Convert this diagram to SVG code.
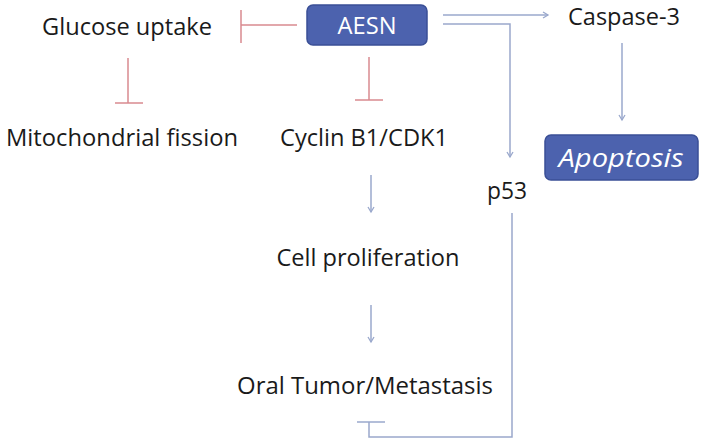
<svg xmlns="http://www.w3.org/2000/svg" width="705" height="443" viewBox="0 0 705 443">
<style>
.t{font-family:"Open Sans","Liberation Sans",sans-serif;font-size:23px;fill:#1a1a1a;text-anchor:middle}
.w{font-family:"Open Sans","Liberation Sans",sans-serif;fill:#ffffff;text-anchor:middle}
.box{fill:#4c62ae;stroke:#3a4f96;stroke-width:1.5}
.act{fill:none;stroke:#9aa8cc;stroke-width:1.5}
.inh{fill:none;stroke:#d98a90;stroke-width:1.5}
</style>
<defs>
<marker id="arr" markerWidth="10" markerHeight="10" refX="6" refY="4" orient="auto" markerUnits="userSpaceOnUse">
<path d="M1,1 L6,4 L1,7" fill="none" stroke="#9aa8cc" stroke-width="1.3"/>
</marker>
</defs>
<rect width="705" height="443" fill="#ffffff"/>
<g id="connectors">
<path class="inh" d="M297,25 H241 M241,10 V43"/>
<path class="inh" d="M369,57 V100 M355,100 H383"/>
<path class="inh" d="M128,58 V103 M115,103 H143"/>
<path class="act" d="M443,15 H548" marker-end="url(#arr)"/>
<path class="act" d="M443,24 H510 V157" marker-end="url(#arr)"/>
<path class="act" d="M622,43 V120" marker-end="url(#arr)"/>
<path class="act" d="M371,175 V212" marker-end="url(#arr)"/>
<path class="act" d="M371,305 V342" marker-end="url(#arr)"/>
<path class="act" d="M512,213 V437 H369 V422"/>
<path class="act" d="M357,422 H385"/>
</g>
<g id="aesn"><rect class="box" x="307" y="5" width="120" height="40" rx="6"/><text class="w" x="367" y="34" font-size="23" textLength="59" lengthAdjust="spacingAndGlyphs">AESN</text></g>
<g id="glucose"><text class="t" x="127" y="35" textLength="170" lengthAdjust="spacingAndGlyphs">Glucose uptake</text></g>
<g id="mito"><text class="t" x="122" y="146" textLength="232" lengthAdjust="spacingAndGlyphs">Mitochondrial fission</text></g>
<g id="cyclin"><text class="t" x="364" y="146" textLength="168" lengthAdjust="spacingAndGlyphs">Cyclin B1/CDK1</text></g>
<g id="caspase"><text class="t" x="624" y="25" font-size="22" textLength="112" lengthAdjust="spacingAndGlyphs">Caspase-3</text></g>
<g id="apoptosis"><rect class="box" x="545" y="135" width="153" height="45" rx="6"/><text class="w" x="621" y="167" font-size="26" font-style="italic" textLength="125" lengthAdjust="spacingAndGlyphs">Apoptosis</text></g>
<g id="p53"><text class="t" x="507" y="199" textLength="40" lengthAdjust="spacingAndGlyphs">p53</text></g>
<g id="prolif"><text class="t" x="368" y="266" textLength="183" lengthAdjust="spacingAndGlyphs">Cell proliferation</text></g>
<g id="tumor"><text class="t" x="365" y="394" textLength="256" lengthAdjust="spacingAndGlyphs">Oral Tumor/Metastasis</text></g>
</svg>
